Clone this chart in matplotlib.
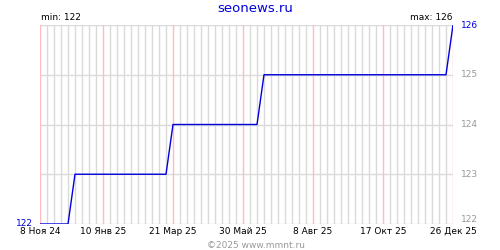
import matplotlib
matplotlib.use("Agg")
import matplotlib.pyplot as plt
import matplotlib.dates as mdates
import numpy as np
import datetime as dt

# Data (breakpoints of the weekly step series)
dates = ["2024-11-08", "2024-12-06", "2024-12-13", "2025-03-14", "2025-03-21",
         "2025-06-13", "2025-06-20", "2025-12-19", "2025-12-26"]
values = [122, 122, 123, 123, 124, 124, 125, 125, 126]
tick_dates = ["2024-11-08", "2025-01-10", "2025-03-21", "2025-05-30",
              "2025-08-08", "2025-10-17", "2025-12-26"]
tick_labels = ["8 Ноя 24", "10 Янв 25", "21 Мар 25", "30 Май 25",
               "8 Авг 25", "17 Окт 25", "26 Дек 25"]
y_levels = [122, 123, 124, 125, 126]
title = "seonews.ru"
footer = "©2025 www.mmnt.ru"

xd = [mdates.date2num(dt.date.fromisoformat(d)) for d in dates]
xt = [mdates.date2num(dt.date.fromisoformat(d)) for d in tick_dates]
x0, x1 = xd[0], xd[-1]

fig = plt.figure(figsize=(5, 2.5), dpi=100)
ax = fig.add_axes([0.08, 0.104, 0.826, 0.796])
ax.set_xlim(x0, x1)
ax.set_ylim(min(y_levels), max(y_levels))

# vertical weekly grid
for xv in np.arange(x0, x1 + 0.5, 7):
    if min(abs(xv - t) for t in xt) > 0.5:
        ax.axvline(xv, color="#dadada", lw=1.0, zorder=1)
for xv in xt:
    ax.axvline(xv, color="#ffbcbc", lw=1.0, zorder=1.5)
for yv in y_levels:
    ax.axhline(yv, color="#dadada", lw=1.0, zorder=1)

ax.plot(xd, values, color="#0000dd", lw=1.0, zorder=3, solid_capstyle="butt")

for s in ax.spines.values():
    s.set_visible(False)
ax.set_xticks([])
ax.set_yticks([])

fs = 6.5
for xv, lab in zip(xt, tick_labels):
    ax.text(xv, -0.015, lab, transform=ax.get_xaxis_transform(), ha="center",
            va="top", fontsize=fs, color="black")

# right labels
for yv in y_levels[1:-1]:
    ax.text(1.02, yv, str(yv), transform=ax.get_yaxis_transform(), ha="left",
            va="center", fontsize=fs, color="#999999")
ax.text(1.02, values[-1], str(values[-1]), transform=ax.get_yaxis_transform(),
        ha="left", va="center", fontsize=fs, color="#0000dd")
ax.text(1.02, min(y_levels), str(min(y_levels)), transform=ax.get_yaxis_transform(),
        ha="left", va="bottom", fontsize=fs, color="#999999")
ax.text(-0.017, values[0], str(values[0]), transform=ax.get_yaxis_transform(),
        ha="right", va="center", fontsize=fs, color="#0000dd")

ax.text(0.002, 1.015, "min: %d" % min(values), transform=ax.transAxes,
        ha="left", va="bottom", fontsize=fs, color="black")
ax.text(0.998, 1.015, "max: %d" % max(values), transform=ax.transAxes,
        ha="right", va="bottom", fontsize=fs, color="black")

fig.text(0.51, 0.965, title, ha="center", va="center", fontsize=9.5, color="#0000dd")
fig.text(0.512, 0.02, footer, ha="center", va="center", fontsize=6.5, color="#999999")

fig.savefig("out.png", dpi=100)
